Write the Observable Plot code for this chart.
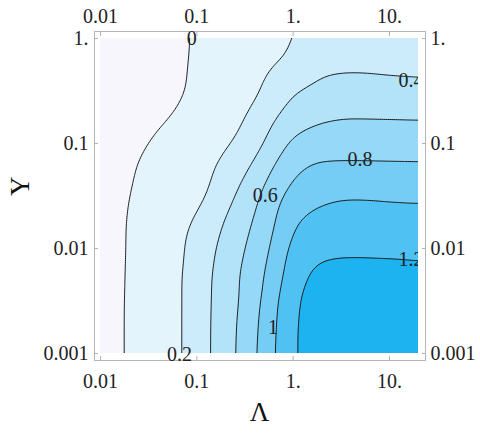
<!DOCTYPE html>
<html><head><meta charset="utf-8">
<script src="https://cdn.jsdelivr.net/npm/d3@7"></script>
<script src="https://cdn.jsdelivr.net/npm/@observablehq/plot@0.6"></script>
<style>html,body{margin:0;padding:0;background:#fff}</style>
</head><body><div id="chart"></div>
<script>
// Sampling grid (Λ columns, Υ rows, top to bottom)
const lambdaGrid = [0.01, 0.018, 0.032, 0.056, 0.1, 0.18, 0.32, 0.56, 1, 1.8, 3.2, 5.6, 10, 20];
const upsilonGrid = [1, 0.56, 0.32, 0.18, 0.1, 0.056, 0.032, 0.018, 0.01, 0.0056, 0.0032, 0.0018, 0.001];
// Estimated surface values
const row00 = [-0.06, -0.05, -0.04, -0.03, 0.012, 0.057, 0.103, 0.149, 0.194, 0.26, 0.29, 0.30, 0.30, 0.30];
const row01 = [-0.06, -0.05, -0.04, -0.03, 0.017, 0.07, 0.123, 0.177, 0.23, 0.35, 0.37, 0.37, 0.36, 0.35];
const row02 = [-0.065, -0.055, -0.045, -0.03, 0.023, 0.086, 0.135, 0.23, 0.385, 0.45, 0.47, 0.465, 0.455, 0.45];
const row03 = [-0.065, -0.05, -0.03, -0.002, 0.062, 0.127, 0.192, 0.342, 0.50, 0.565, 0.59, 0.59, 0.588, 0.584];
const row04 = [-0.07, -0.045, 0.0, 0.059, 0.117, 0.18, 0.23, 0.456, 0.645, 0.70, 0.715, 0.715, 0.713, 0.71];
const row05 = [-0.07, -0.025, 0.033, 0.091, 0.149, 0.219, 0.381, 0.58, 0.77, 0.85, 0.848, 0.845, 0.842, 0.84];
const row06 = [-0.07, -0.012, 0.045, 0.09, 0.135, 0.30, 0.481, 0.68, 0.88, 0.96, 0.99, 0.99, 0.98, 0.972];
const row07 = [-0.075, -0.004, 0.068, 0.13, 0.215, 0.387, 0.55, 0.73, 0.99, 1.06, 1.075, 1.075, 1.07, 1.067];
const row08 = [-0.08, -0.003, 0.075, 0.14, 0.26, 0.444, 0.6, 0.785, 1.07, 1.15, 1.175, 1.175, 1.17, 1.16];
const row09 = [-0.08, 0.0, 0.079, 0.14, 0.29, 0.469, 0.643, 0.837, 1.12, 1.25, 1.25, 1.25, 1.25, 1.245];
const row10 = [-0.08, 0.002, 0.085, 0.14, 0.29, 0.476, 0.643, 0.883, 1.185, 1.27, 1.3, 1.3, 1.3, 1.3];
const row11 = [-0.08, 0.003, 0.085, 0.14, 0.29, 0.484, 0.665, 0.914, 1.19, 1.3, 1.33, 1.33, 1.33, 1.33];
const row12 = [-0.08, 0.003, 0.085, 0.14, 0.29, 0.486, 0.675, 0.933, 1.19, 1.3, 1.34, 1.34, 1.34, 1.34];
const gridRows = [row00, row01, row02, row03, row04, row05, row06, row07, row08, row09, row10, row11, row12];

const contourLevels = [0, 0.2, 0.4, 0.6, 0.8, 1, 1.2];
const xTicks = [0.01, 0.1, 1, 10];
const xTickLabels = ["0.01", "0.1", "1.", "10."];
const yTicks = [0.001, 0.01, 0.1, 1];
const yTickLabels = ["0.001", "0.01", "0.1", "1."];
const labelText = ["0", "0.2", "0.4", "0.6", "0.8", "1", "1.2"];
const labelX = [0.0887, 0.066, 16.7, 0.513, 4.94, 0.616, 16.7];
const labelY = [1.0, 0.00097, 0.40, 0.0318, 0.0709, 0.00177, 0.0078];

// Grid points, plus a copy of the edge samples just outside the plotted area
// so the contour edges fall outside the clipped frame.
const padLambda = [0.008, 25];
const padUpsilon = [1.25, 0.0008];
const points = [];
upsilonGrid.forEach((u, i) => lambdaGrid.forEach((l, j) => points.push({x: l, y: u, v: gridRows[i][j]})));
upsilonGrid.forEach((u, i) => {
  points.push({x: padLambda[0], y: u, v: gridRows[i][0]});
  points.push({x: padLambda[1], y: u, v: gridRows[i][lambdaGrid.length - 1]});
});
[0, gridRows.length - 1].forEach((i, k) => {
  const row = gridRows[i];
  lambdaGrid.forEach((l, j) => points.push({x: l, y: padUpsilon[k], v: row[j]}));
  points.push({x: padLambda[0], y: padUpsilon[k], v: row[0]});
  points.push({x: padLambda[1], y: padUpsilon[k], v: row[row.length - 1]});
});

const palette = ["#f7f6fd", "#e4f4fc", "#cdecfb", "#b2e3f9", "#95d8f7", "#75cdf5", "#4fc1f3", "#1cb3f0"];
const serif = "'Liberation Serif', 'DejaVu Serif', serif";
const ext = {x1: 0.0085, x2: 23, y1: 0.00085, y2: 1.2};
const fmtX = d => xTickLabels[xTicks.indexOf(d)];
const fmtY = d => yTickLabels[yTicks.indexOf(d)];
const tickColor = "#b4b4b4";
const textColor = "#222";

const chart = Plot.plot({
  width: 480, height: 436,
  marginLeft: 100, marginRight: 62, marginTop: 38, marginBottom: 83,
  x: {type: "log", domain: [0.01, 20], label: null},
  y: {type: "log", domain: [0.001, 1], label: null},
  color: {type: "threshold", domain: [-0.5, 0.1, 0.3, 0.5, 0.7, 0.9, 1.1], range: palette},
  style: {fontFamily: serif, background: "white", overflow: "visible"},
  marks: [
    Plot.contour(points, {x: "x", y: "y", fill: "v", stroke: "none", thresholds: [-1, ...contourLevels], interpolate: "barycentric", blur: 4, ...ext, clip: true}),
    Plot.contour(points, {x: "x", y: "y", value: "v", fill: "none", stroke: "#1a1a1a", strokeWidth: 1, thresholds: contourLevels, interpolate: "barycentric", blur: 4, ...ext, clip: true}),
    Plot.frame({stroke: tickColor, insetLeft: -6, insetRight: -7, insetTop: -7, insetBottom: -7}),
    Plot.axisX(xTicks, {anchor: "bottom", tickSize: 4, dy: 3, stroke: tickColor, tickFormat: () => "", label: null}),
    Plot.axisX(xTicks, {anchor: "top", tickSize: 4, dy: -3, stroke: tickColor, tickFormat: () => "", label: null}),
    Plot.axisY(yTicks, {anchor: "left", tickSize: 4, dx: -2, stroke: tickColor, tickFormat: () => "", label: null}),
    Plot.axisY(yTicks, {anchor: "right", tickSize: 4, dx: 3, stroke: tickColor, tickFormat: () => "", label: null}),
    Plot.axisX(xTicks, {anchor: "bottom", tickSize: 0, tickPadding: 20, tickFormat: fmtX, fontSize: 20, fill: textColor, label: null}),
    Plot.axisX(xTicks, {anchor: "top", tickSize: 0, tickPadding: 16, tickFormat: fmtX, fontSize: 20, fill: textColor, label: null}),
    Plot.axisY(yTicks, {anchor: "left", tickSize: 0, tickPadding: 12, tickFormat: fmtY, fontSize: 20, fill: textColor, label: null}),
    Plot.axisY(yTicks, {anchor: "right", tickSize: 0, tickPadding: 12, tickFormat: fmtY, fontSize: 20, fill: textColor, label: null}),
    Plot.text(labelText.slice(0, 2), {x: (d, i) => labelX[i], y: (d, i) => labelY[i], text: d => d, fontSize: 20, fill: textColor}),
    Plot.text(labelText.slice(2), {x: (d, i) => labelX[i + 2], y: (d, i) => labelY[i + 2], text: d => d, fontSize: 20, fill: textColor, clip: true}),
    Plot.text(["Λ"], {frameAnchor: "bottom", dy: 67, text: d => d, fontSize: 27, fill: "#111"}),
    Plot.text(["Υ"], {frameAnchor: "left", dx: -80, rotate: -90, text: d => d, fontSize: 27, fill: "#111"})
  ]
});
document.getElementById("chart").appendChild(chart);
</script>
</body></html>
